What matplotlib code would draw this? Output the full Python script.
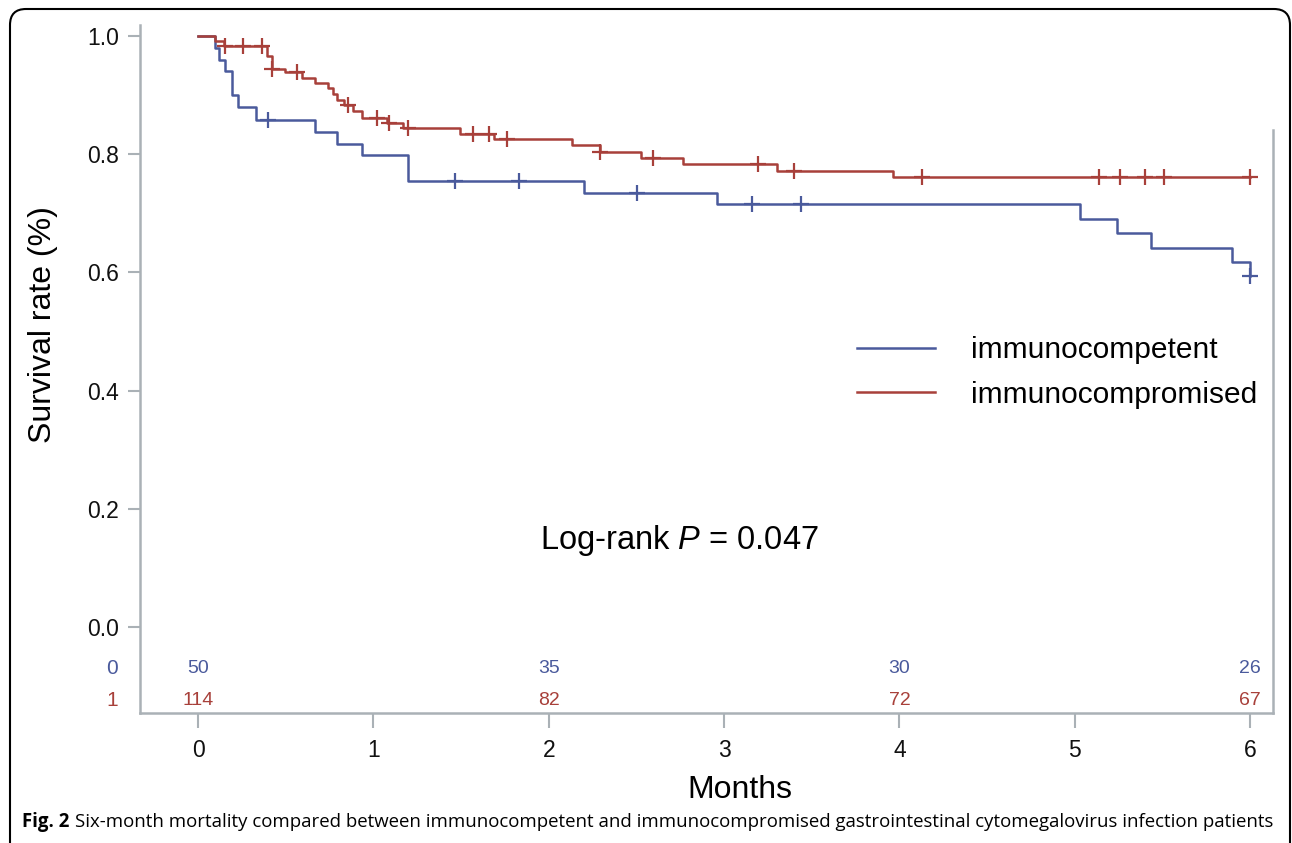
"""
    Kaplan-Meier survival curves: immunocompetent vs immunocompromised
"""
import numpy as np
import matplotlib
matplotlib.use("Agg")
import matplotlib.pyplot as plt
from matplotlib.patches import FancyBboxPatch
from matplotlib.transforms import IdentityTransform

plt.rcParams['font.family'] = ['Liberation Sans', 'DejaVu Sans']
plt.rcParams['mathtext.fontset'] = 'custom'
plt.rcParams['mathtext.it'] = 'Liberation Sans:italic'
plt.rcParams['mathtext.rm'] = 'Liberation Sans'

# Step curves (months, survival)
competent_t = [0, 0.097, 0.122, 0.154, 0.192, 0.23, 0.331, 0.667, 0.79, 0.934,
               1.198, 2.20, 2.96, 5.03, 5.24, 5.437, 5.897, 6.0]
competent_s = [1.0, 0.98, 0.96, 0.94, 0.90, 0.88, 0.858, 0.838, 0.818, 0.798,
               0.755, 0.735, 0.715, 0.690, 0.666, 0.642, 0.618, 0.594]
competent_cens = [0.40, 1.466, 1.831, 2.502, 3.162, 3.44, 6.0]

compromised_t = [0, 0.097, 0.145, 0.395, 0.42, 0.496, 0.591, 0.667, 0.743, 0.768,
                 0.791, 0.833, 0.886, 0.934, 1.076, 1.171, 1.495, 1.685, 2.13,
                 2.293, 2.527, 2.768, 3.30, 3.965, 6.0]
compromised_s = [1.0, 0.991, 0.983, 0.966, 0.945, 0.939, 0.929, 0.920, 0.912, 0.902,
                 0.892, 0.883, 0.873, 0.862, 0.852, 0.845, 0.835, 0.825, 0.816,
                 0.804, 0.793, 0.783, 0.772, 0.762, 0.762]
compromised_cens = [0.154, 0.259, 0.363, 0.42, 0.563, 0.857, 1.023, 1.091, 1.196,
                    1.567, 1.66, 1.761, 2.293, 2.594, 3.196, 3.40, 4.128, 5.136,
                    5.26, 5.40, 5.507, 6.0]

# Number at risk
risk_times = [0, 2, 4, 6]
competent_risk = [50, 35, 30, 26]
compromised_risk = [114, 82, 72, 67]

blue = '#4a5a9c'
red = '#a8403a'
grey = '#aab1b6'


def value_at(times, surv, t):
    i = np.searchsorted(times, t, side='right') - 1
    return surv[i]


fig = plt.figure(figsize=(12.92, 8.43), dpi=100)
ax = fig.add_axes([0.1084, 0.1542, 0.8769, 0.8161])

ax.step(competent_t, competent_s, where='post', color=blue, lw=1.8, label='immunocompetent')
ax.step(compromised_t, compromised_s, where='post', color=red, lw=1.8, label='immunocompromised')

ax.plot(competent_cens, [value_at(competent_t, competent_s, c) for c in competent_cens],
        ls='none', marker='+', ms=11, mew=1.6, color=blue)
ax.plot(compromised_cens, [value_at(compromised_t, compromised_s, c) for c in compromised_cens],
        ls='none', marker='+', ms=11, mew=1.6, color=red)

ax.set_xlim(-0.331, 6.131)
ax.set_ylim(-0.1455, 1.0186)

ax.set_xticks(range(7))
ax.set_yticks([0, 0.2, 0.4, 0.6, 0.8, 1.0])
ax.set_yticklabels(['0.0', '0.2', '0.4', '0.6', '0.8', '1.0'])
ax.tick_params(axis='both', colors=grey, labelcolor='#111111', labelsize=16.5,
               width=1.5)
ax.tick_params(axis='y', length=9, pad=6)
ax.tick_params(axis='x', length=11, pad=8)

for side in ['top', 'right']:
    ax.spines[side].set_visible(False)
for side in ['left', 'bottom']:
    ax.spines[side].set_color(grey)
    ax.spines[side].set_linewidth(1.8)
# partial right border
ax.plot([1, 1], [0, 0.847], transform=ax.transAxes, color=grey, lw=1.8, clip_on=False)

ax.set_xlabel('Months', fontsize=23)
ax.xaxis.set_label_coords(0.5296, -0.090)
ax.set_ylabel('Survival rate (%)', fontsize=23)
ax.yaxis.set_label_coords(-0.0724, 0.564)

# number at risk rows
for t, n in zip(risk_times, competent_risk):
    ax.text(t, -0.071, str(n), color=blue, fontsize=14, ha='center', va='center')
for t, n in zip(risk_times, compromised_risk):
    ax.text(t, -0.1235, str(n), color=red, fontsize=14, ha='center', va='center')
ax.text(-0.49, -0.071, '0', color=blue, fontsize=15, ha='center', va='center', clip_on=False)
ax.text(-0.49, -0.1235, '1', color=red, fontsize=15, ha='center', va='center', clip_on=False)

ax.text(2.743, 0.147, 'Log-rank $P$ = 0.047', fontsize=23.5, ha='center', va='center')

ax.legend(loc='upper left', bbox_to_anchor=(0.620, 0.569), frameon=False, fontsize=21.5,
          handlelength=2.6, handletextpad=1.2, labelspacing=0.55, borderpad=0)

# caption, sized so it spans x = 22..1275 px
cap_family = ['Open Sans', 'DejaVu Sans']
cap_y = 1 - 822 / 843
cap1 = fig.text(22 / 1292, cap_y, 'Fig. 2', fontsize=14, fontweight='bold',
                family=cap_family, va='center')
cap2 = fig.text(0, cap_y,
                'Six-month mortality compared between immunocompetent and immunocompromised '
                'gastrointestinal cytomegalovirus infection patients',
                fontsize=14, family=cap_family, va='center')
fig.canvas.draw()
total = cap1.get_window_extent().width + 6 + cap2.get_window_extent().width
scale = (1275 - 22) / total
cap1.set_fontsize(14 * scale)
cap2.set_fontsize(14 * scale)
fig.canvas.draw()
cap2.set_x((cap1.get_window_extent().x1 + 6 * scale) / 1292)

# rounded frame around figure
frame = FancyBboxPatch((10, -30), 1280, 864, boxstyle='round,pad=0,rounding_size=16',
                       transform=IdentityTransform(), fill=False, ec='black', lw=1.5)
fig.patches.append(frame)

plt.savefig('out.png', dpi=100)
